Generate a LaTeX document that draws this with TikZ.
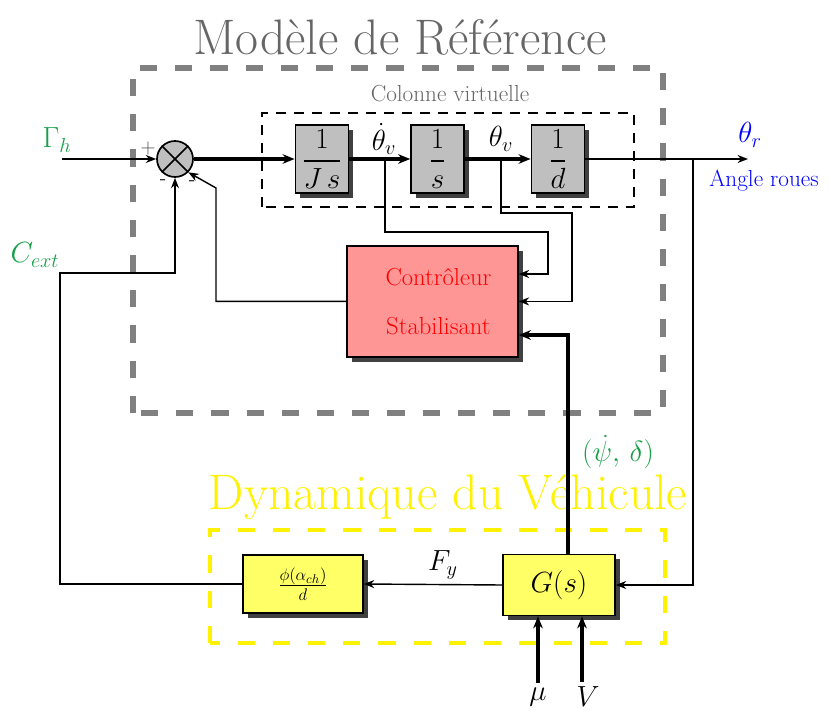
\documentclass[tikz,border=0pt]{standalone}
\usepackage{amsmath}
\usetikzlibrary{shadows,arrows.meta}

\definecolor{vert}{RGB}{20,160,70}
\definecolor{rose}{RGB}{255,150,150}
\definecolor{jaune}{RGB}{255,255,102}
\definecolor{gris}{RGB}{191,191,191}

\newcommand{\taille}[1]{\fontsize{#1}{1.2\dimexpr#1pt\relax}\selectfont}

\tikzset{
  ombre/.style={drop shadow={shadow xshift=0.12cm, shadow yshift=-0.12cm, opacity=1, fill=black!75}},
  bloc/.style={draw, line width=1.2pt, fill=gris, minimum width=1.33cm, minimum height=1.58cm, ombre},
  somme/.style={draw, circle, line width=1.2pt, fill=gris, minimum size=0.9cm, inner sep=0pt},
  fleche/.style={line width=1pt, -{Stealth[length=2.6mm, width=2mm]}},
  fleche epaisse/.style={line width=2.2pt, -{Stealth[length=3mm, width=2.4mm]}},
}

\begin{document}
\begin{tikzpicture}
    \useasboundingbox (0, 0) rectangle (20.775, 17.825);

    % cadres
    \draw[gray, line width=3.8pt, dash pattern=on 0.43cm off 0.45cm] (3.325, 7.5) rectangle (16.575, 16.125);
    \node[black!60] (titre) at (10, 16.9) { \taille{35.5}Modèle de Référence };
    \draw[line width=1.2pt, dash pattern=on 0.25cm off 0.2cm] (6.55, 12.65) rectangle (15.85, 15.0);
    \node[black!60] (colonne) at (11.25, 15.475) { \taille{16.5}Colonne virtuelle };

    \draw[yellow, line width=3.5pt, dash pattern=on 0.43cm off 0.45cm] (5.25, 1.75) rectangle (16.625, 4.575);
    \node[yellow] (titrebis) at (11.2, 5.4) { \taille{35.5}Dynamique du Véhicule };

    % blocs
    \node[somme] (s) at (4.375, 13.85) { };
    \draw[line width=1.2pt] (s.north west) -- (s.south east);
    \draw[line width=1.2pt] (s.north east) -- (s.south west);

    \node[bloc] (js) at (8.05, 13.85) { \taille{20}$\dfrac{1}{J\,s}$ };
    \node[bloc] (is) at (10.94, 13.85) { \taille{20}$\dfrac{1}{s}$ };
    \node[bloc] (id) at (13.95, 13.85) { \taille{20}$\dfrac{1}{d}$ };

    \node[draw, line width=1.2pt, fill=rose, minimum width=4.275cm, minimum height=2.775cm, ombre,
          text=red, align=center, font=\fontsize{17.5}{35}\selectfont] (ctrl) at (10.81, 10.29)
          { \hspace*{0.3cm}Contrôleur\\ \hspace*{0.3cm}Stabilisant };

    \node[draw, line width=1.2pt, fill=jaune, minimum width=2.8cm, minimum height=1.525cm, ombre] (g) at (13.975, 3.2)
          { \taille{22}$G(s)$ };
    \node[draw, line width=1.2pt, fill=jaune, minimum width=3cm, minimum height=1.45cm, ombre] (phi) at (7.575, 3.225)
          { \taille{18}$\frac{\phi(\alpha_{ch})}{d}$ };

    % textes
    \node[text=vert] (gamma) at (1.425, 14.325) { \taille{20}$\Gamma_h$ };
    \node[text=vert] (cext) at (0.875, 11.45) { \taille{20}$C_{ext}$ };
    \node[text=vert] (psi) at (15.45, 6.525) { \taille{20}$(\dot{\psi},\,\delta)$ };
    \node[text=blue] (thetar) at (18.75, 14.45) { \taille{20}$\theta_r$ };
    \node[text=blue] (angle) at (19.1, 13.3) { \taille{16.5}Angle roues };
    \node (thetapt) at (9.6, 14.35) { \taille{20}$\dot{\theta}_v$ };
    \node (thetav) at (12.525, 14.35) { \taille{20}$\theta_v$ };
    \node (fy) at (11.075, 3.7) { \taille{20}$F_y$ };
    \node (mu) at (13.45, 0.4) { \taille{20}$\mu$ };
    \node (v) at (14.7, 0.4) { \taille{20}$V$ };
    \node[black!70] (plus) at (3.7, 14.125) { \taille{14}$+$ };
    \node (moinsa) at (4.075, 13.275) { \taille{14}-};
    \node (moinsb) at (4.8, 13.25) { \taille{14}-};

    \coordinate (entree) at (1.55, 13.85);
    \coordinate (sortie) at (18.7, 13.85);
    \coordinate (ba) at (9.625, 13.85);
    \coordinate (bb) at (12.525, 13.85);
    \coordinate (bc) at (17.325, 13.85);

    % liaisons
    \draw[fleche] (entree) -- (s.west);
    \draw[fleche epaisse] (s.east) -- (js.west);
    \draw[fleche epaisse] (js.east) -- (is.west);
    \draw[fleche epaisse] (is.east) -- (id.west);
    \draw[fleche] (id.east) -- (sortie);
    \draw[fleche] (bc) |- (g.east);

    \draw[fleche] (ba) |- (13.7, 12.025) |- ([yshift=0.685cm]ctrl.east);
    \draw[fleche] (bb) |- (14.3, 12.5) |- (ctrl.east);
    \draw[fleche epaisse] ([xshift=0.225cm]g.north) |- ([yshift=-0.84cm]ctrl.east);
    \draw[fleche] (ctrl.west) -| (5.4, 13.125) -- (s.south east);

    \draw[fleche] (g.west) -- (phi.east);
    \draw[fleche] (phi.west) -| (1.5, 11.0) -| (s.south);
    \draw[fleche epaisse] (mu.north) -- (mu.north |- g.south);
    \draw[fleche epaisse] ([xshift=-0.15cm]v.north) -- ([xshift=-0.15cm]v.north |- g.south);
\end{tikzpicture}
\end{document}
